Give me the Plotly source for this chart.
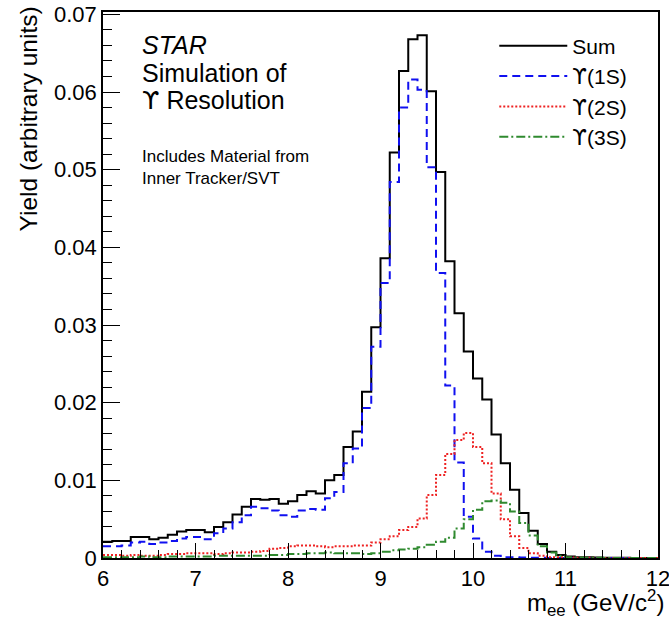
import numpy as np
import plotly.graph_objects as go

# Bin layout: 60 bins of 0.1 GeV from 6 to 12
x_min, x_max, bin_width = 6.0, 12.0, 0.1
bin_edges = np.round(np.arange(x_min, x_max + bin_width / 2, bin_width), 2)

sum_vals = [
    0.0021, 0.0022, 0.0022, 0.0027, 0.0027, 0.0024, 0.0026, 0.0030, 0.0034, 0.0036,
    0.0036, 0.0033, 0.0040, 0.0046, 0.0056, 0.0066, 0.0076, 0.0075, 0.0076, 0.0070,
    0.0073, 0.0081, 0.0086, 0.0083, 0.0100, 0.0107, 0.0143, 0.0163, 0.0214, 0.0297,
    0.0386, 0.0522, 0.0627, 0.0668, 0.0673, 0.0601, 0.0497, 0.0382, 0.0315, 0.0266,
    0.0231, 0.0204, 0.0159, 0.0122, 0.0088, 0.0058, 0.0035, 0.0018, 0.0008, 0.0004,
    0.0002, 0.0001, 0.0001, 0.00005, 0.00003, 0.00002, 0.00002, 0.00001, 0.00001, 0.00001,
]
ups1s_vals = [
    0.0015, 0.0015, 0.0016, 0.0020, 0.0021, 0.0018, 0.0020, 0.0022, 0.0025, 0.0027,
    0.0027, 0.0024, 0.0032, 0.0038, 0.0046, 0.0055, 0.0066, 0.0064, 0.0061, 0.0055,
    0.0053, 0.0061, 0.0063, 0.0062, 0.0077, 0.0085, 0.0122, 0.0141, 0.0193, 0.0272,
    0.0354, 0.0484, 0.0580, 0.0616, 0.0603, 0.0503, 0.0367, 0.0222, 0.0123, 0.0053,
    0.0025, 0.0008, 0.0003, 0.0001, 0.0001, 0.00005, 0.00003, 0.00002, 0.00001, 0.0,
    0.0, 0.0, 0.0, 0.0, 0.0, 0.0, 0.0, 0.0, 0.0, 0.0,
]
ups2s_vals = [
    0.0004, 0.0004, 0.0003, 0.0004, 0.0003, 0.0003, 0.0004, 0.0005, 0.0005, 0.0006,
    0.0006, 0.0006, 0.0005, 0.0006, 0.0007, 0.0007, 0.0008, 0.0009, 0.0012, 0.0013,
    0.0015, 0.0016, 0.0016, 0.0015, 0.0014, 0.0015, 0.0015, 0.0016, 0.0016, 0.0020,
    0.0024, 0.0028, 0.0036, 0.0040, 0.0051, 0.0081, 0.0107, 0.0134, 0.0152, 0.0161,
    0.0143, 0.0122, 0.0083, 0.0050, 0.0028, 0.0013, 0.0006, 0.0003, 0.0001, 0.0001,
    0.00005, 0.00003, 0.00002, 0.00001, 0.00001, 0.0, 0.0, 0.0, 0.0, 0.0,
]
ups3s_vals = [
    0.0001, 0.0001, 0.0001, 0.0001, 0.0002, 0.0001, 0.0001, 0.0002, 0.0002, 0.0002,
    0.0002, 0.0002, 0.0003, 0.0003, 0.0003, 0.0003, 0.0003, 0.0003, 0.0004, 0.0004,
    0.0005, 0.0005, 0.0006, 0.0006, 0.0007, 0.0006, 0.0006, 0.0006, 0.0005, 0.0006,
    0.0008, 0.0010, 0.0011, 0.0012, 0.0014, 0.0017, 0.0021, 0.0026, 0.0038, 0.0050,
    0.0062, 0.0073, 0.0074, 0.0071, 0.0060, 0.0045, 0.0029, 0.0015, 0.0007, 0.0003,
    0.0001, 0.00005, 0.00003, 0.00002, 0.00001, 0.0, 0.0, 0.0, 0.0, 0.0,
]

UPS = '<span style="font-family:DejaVu Sans">ϒ</span>'

series = [
    ("Sum", sum_vals, "black", "solid"),
    (UPS + "(1S)", ups1s_vals, "#1010f0", "8px,5px"),
    (UPS + "(2S)", ups2s_vals, "#ee2222", "2px,2px"),
    (UPS + "(3S)", ups3s_vals, "#2f8a2f", "9px,3px,2px,3px"),
]

x_ticks = [6, 7, 8, 9, 10, 11, 12]
y_ticks = [0, 0.01, 0.02, 0.03, 0.04, 0.05, 0.06, 0.07]
y_tick_text = ["0", "0.01", "0.02", "0.03", "0.04", "0.05", "0.06", "0.07"]

FONT = "Liberation Sans, Arial, Helvetica, sans-serif"

fig = go.Figure()
for name, vals, color, dash in series:
    xs = list(bin_edges)
    ys = list(vals) + [vals[-1]]
    fig.add_trace(go.Scatter(
        x=xs, y=ys, mode="lines", name=name, hoverinfo="skip",
        line=dict(shape="hv", color=color, width=2, dash=dash),
    ))

fig.update_layout(
    width=669, height=619,
    margin=dict(l=103, r=11, t=12, b=61, autoexpand=False),
    paper_bgcolor="white", plot_bgcolor="white",
    font=dict(family=FONT, size=22, color="black"),
    showlegend=True,
    legend=dict(
        x=0.705, y=0.975, xanchor="left", yanchor="top",
        bgcolor="rgba(0,0,0,0)", font=dict(size=21),
        tracegroupgap=0, itemwidth=68,
    ),
    xaxis=dict(
        range=[x_min, x_max], tickvals=x_ticks, ticktext=[str(v) for v in x_ticks],
        ticks="inside", ticklen=15, tickwidth=1.2, tickcolor="black",
        minor=dict(ticks="inside", ticklen=8, dtick=0.2, tickwidth=1.2, tickcolor="black", showgrid=False),
        showline=True, linecolor="black", linewidth=1.5, mirror=True,
        showgrid=False, zeroline=False, tickfont=dict(size=22), automargin=False,
        ticklabeloverflow="allow",
    ),
    yaxis=dict(
        range=[0, 0.0703], tickvals=y_ticks, ticktext=y_tick_text,
        ticks="inside", ticklen=17, tickwidth=1.2, tickcolor="black",
        minor=dict(ticks="inside", ticklen=9, dtick=0.002, tickwidth=1.2, tickcolor="black", showgrid=False),
        showline=True, linecolor="black", linewidth=1.5, mirror=True,
        showgrid=False, zeroline=False, tickfont=dict(size=22), automargin=False,
        ticklabeloverflow="allow",
    ),
)

def px_x(px):
    return (px - 103) / 555

def px_y(py):
    return (558 - py) / 546

annotations = [
    dict(text="<i>STAR</i>", x=px_x(140), y=px_y(45), size=25),
    dict(text="Simulation of", x=px_x(140), y=px_y(73), size=25),
    dict(text=UPS + " Resolution", x=px_x(140), y=px_y(101), size=25),
    dict(text="Includes Material from", x=px_x(140), y=px_y(157), size=17),
    dict(text="Inner Tracker/SVT", x=px_x(140), y=px_y(178), size=17),
]
for a in annotations:
    fig.add_annotation(
        text=a["text"], x=a["x"], y=a["y"], xref="paper", yref="paper",
        xanchor="left", yanchor="middle", showarrow=False,
        font=dict(family=FONT, size=a["size"], color="black"),
    )

fig.add_annotation(
    text="Yield (arbitrary units)", textangle=-90,
    x=px_x(28), y=px_y(5), xref="paper", yref="paper",
    xanchor="center", yanchor="top", showarrow=False,
    font=dict(family=FONT, size=24.5, color="black"),
)
fig.add_annotation(
    text="m<sub>ee</sub> (GeV/c<sup>2</sup>)",
    x=px_x(666), y=px_y(603), xref="paper", yref="paper",
    xanchor="right", yanchor="middle", showarrow=False,
    font=dict(family=FONT, size=24, color="black"),
)

fig.write_html(
    "out.html",
    config={"displayModeBar": False},
    post_script="document.body.style.margin='0';document.body.style.overflow='hidden';",
)
